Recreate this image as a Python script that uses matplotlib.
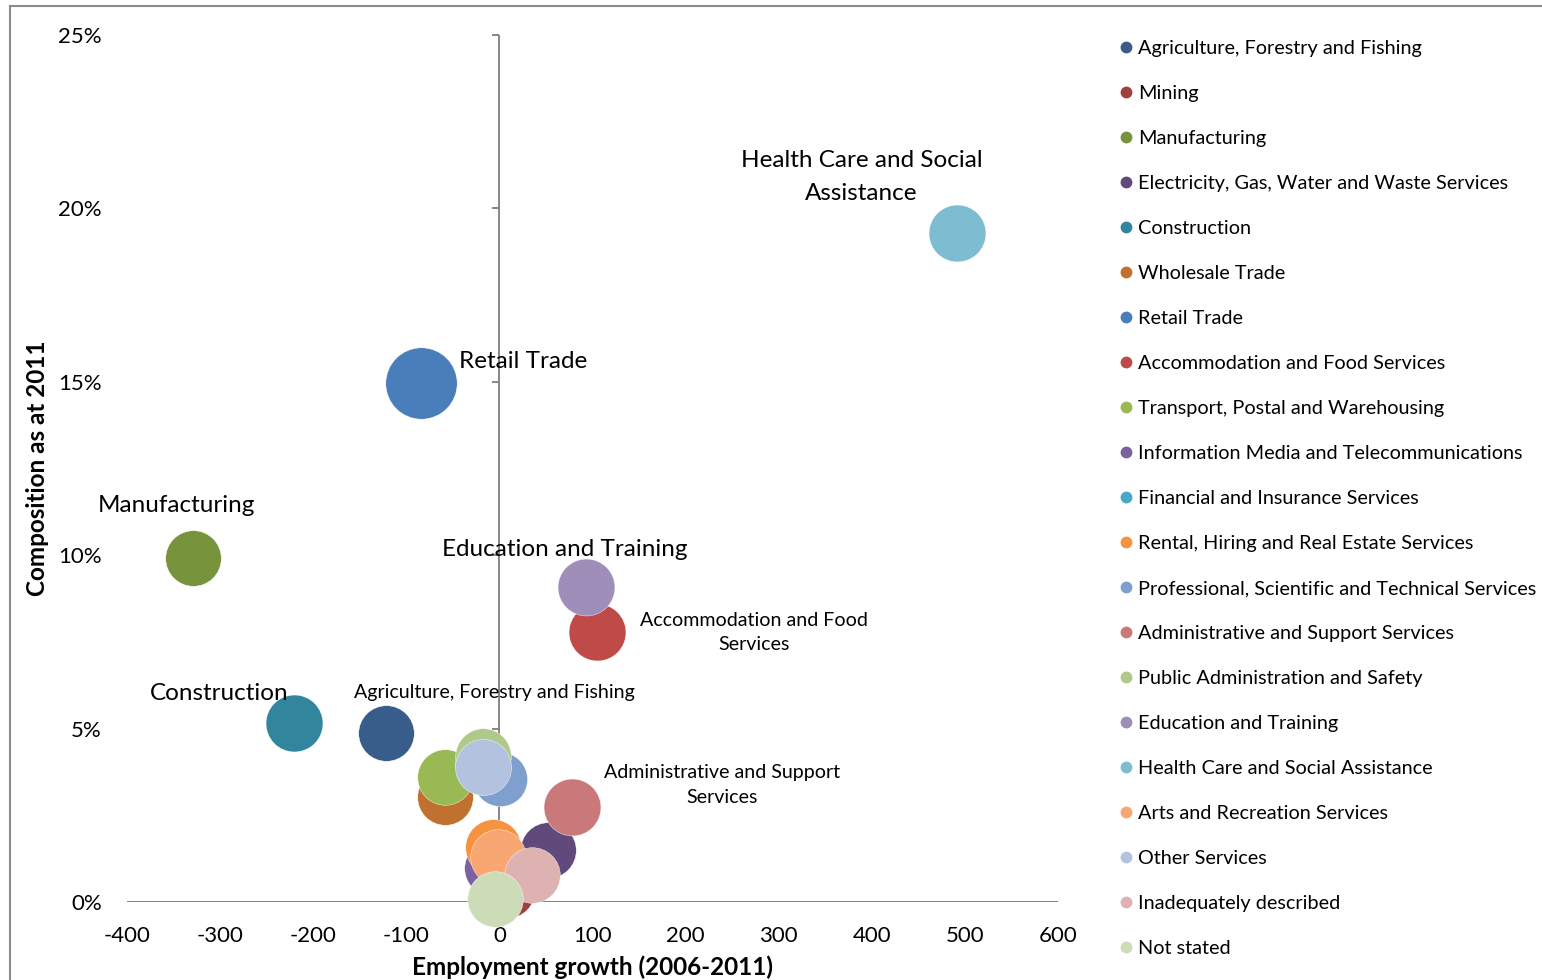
import matplotlib
matplotlib.use("Agg")
import matplotlib.pyplot as plt
from matplotlib.lines import Line2D
from matplotlib.patches import Rectangle

plt.rcParams["font.family"] = ["Lato", "DejaVu Sans"]
plt.rcParams["axes.unicode_minus"] = False

industries = [
    "Agriculture, Forestry and Fishing",
    "Mining",
    "Manufacturing",
    "Electricity, Gas, Water and Waste Services",
    "Construction",
    "Wholesale Trade",
    "Retail Trade",
    "Accommodation and Food Services",
    "Transport, Postal and Warehousing",
    "Information Media and Telecommunications",
    "Financial and Insurance Services",
    "Rental, Hiring and Real Estate Services",
    "Professional, Scientific and Technical Services",
    "Administrative and Support Services",
    "Public Administration and Safety",
    "Education and Training",
    "Health Care and Social Assistance",
    "Arts and Recreation Services",
    "Other Services",
    "Inadequately described",
    "Not stated",
]

# employment growth 2006-2011 (persons)
growth = [-122, 8, -329, 52, -221, -58, -84, 105, -58, -8, -18, -7, 1, 78, -18, 93, 492, -1, -18, 35, -5]
# share of employment in 2011 (%)
share = [4.87, 0.35, 9.92, 1.50, 5.16, 3.03, 14.97, 7.79, 3.59, 0.97, 4.0, 1.59, 3.54, 2.74, 4.20,
         9.08, 19.29, 1.30, 3.88, 0.78, 0.10]
# relative bubble size
bubble = [100, 100, 100, 100, 105, 100, 165, 105, 100, 100, 100, 100, 95, 105, 100, 105, 105,
          100, 102, 100, 100]

colors = ["#385D8A", "#A0403D", "#77933C", "#604A7B", "#31859C", "#C0712F", "#4A7EBB",
          "#BE4B48", "#98B954", "#7D60A0", "#46AAC5", "#F69240", "#7F9FCF", "#C9797A",
          "#AEC98A", "#A08EBA", "#7EBCD2", "#F8A672", "#B3C2DE", "#DDB2B1", "#CCDCB8"]

# labelled bubbles: (index, text, offset in pixels, font size, line spacing)
labels = [
    (16, "Health Care and Social\nAssistance", (-96, 56), 17.5, 1.66),
    (6, "Retail Trade", (102, 21), 17.5, 1.0),
    (2, "Manufacturing", (-17, 52), 17.5, 1.0),
    (15, "Education and Training", (-21, 38), 17.5, 1.0),
    (7, "Accommodation and Food\nServices", (157, -1), 14.1, 1.52),
    (4, "Construction", (-74, 30), 17.5, 1.0),
    (0, "Agriculture, Forestry and Fishing", (109, 41), 14.1, 1.0),
    (13, "Administrative and Support\nServices", (150, 22), 14.1, 1.52),
]

y_ticks = [0, 5, 10, 15, 20, 25]
x_ticks = [-400, -300, -200, -100, 0, 100, 200, 300, 400, 500, 600]

fig = plt.figure(figsize=(15.42, 9.8), dpi=100)
ax = fig.add_axes([127 / 1542, 1 - 902 / 980, 931 / 1542, 867 / 980])

axis_grey = "#868686"
ax.axvline(0, color=axis_grey, lw=1.4, zorder=1)
ax.axhline(0, color=axis_grey, lw=2.2, zorder=1)
ax.plot([0] * len(y_ticks), y_ticks, ls="none", marker=0, ms=5, mew=1.4,
        color=axis_grey, clip_on=False, zorder=1)

for i in range(len(industries)):
    ax.scatter(growth[i], share[i], s=bubble[i] * 16, color=colors[i],
               edgecolors="white", linewidths=0.3, clip_on=False, zorder=3)

for idx, text, off, fs, lsp in labels:
    ax.annotate(text, (growth[idx], share[idx]), xytext=off, textcoords="offset pixels",
                ha="center", va="center", fontsize=fs, linespacing=lsp, zorder=4)

ax.set_xlim(-400, 600)
ax.set_ylim(0, 25)
ax.set_xticks(x_ticks)
ax.set_xticklabels([str(v) for v in x_ticks])
ax.set_yticks(y_ticks)
ax.set_yticklabels([f"{v}%" for v in y_ticks])
ax.tick_params(axis="both", length=0, labelsize=16)
ax.tick_params(axis="y", pad=18)
ax.tick_params(axis="x", pad=17)
for s in ax.spines.values():
    s.set_visible(False)

ax.set_xlabel("Employment growth (2006-2011)", fontsize=17.5, fontweight="bold", labelpad=7)
ax.set_ylabel("Composition as at 2011", fontsize=17.5, fontweight="bold", labelpad=7)

handles = [Line2D([], [], ls="none", marker="o", ms=7.5, color=c) for c in colors]
fig.legend(handles, industries, loc="upper left", bbox_to_anchor=(1112 / 1542, 1 - 32 / 980),
           frameon=False, fontsize=14.3, handlelength=0.6, handletextpad=0.3,
           labelspacing=1.411, borderaxespad=0)

fig.patches.append(Rectangle((10 / 1542, -0.1), 1.2, 1 - 6 / 980 + 0.1, transform=fig.transFigure,
                             fill=False, edgecolor="#8C8C8C", lw=1.5))

fig.savefig("out.png", dpi=100)
